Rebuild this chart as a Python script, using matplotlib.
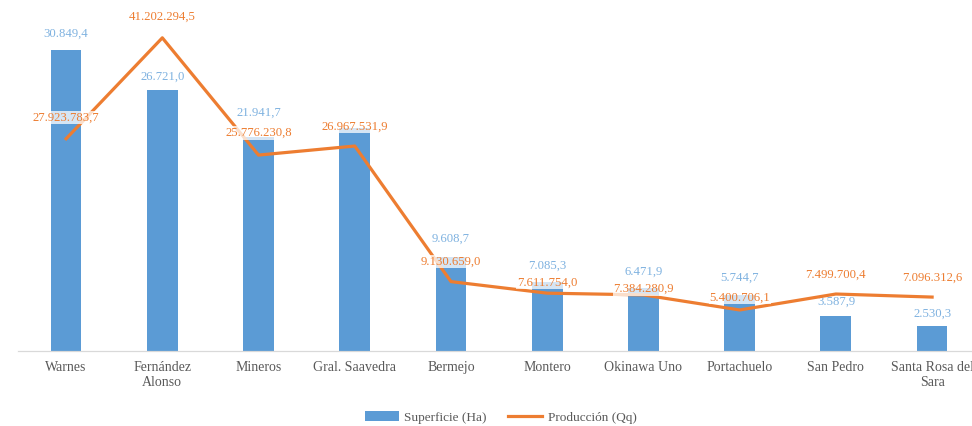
import numpy as np
import matplotlib
matplotlib.use("Agg")
import matplotlib.pyplot as plt

plt.rcParams['font.family'] = ['Liberation Serif', 'DejaVu Serif']

municipios = ["Warnes", "Fernández\nAlonso", "Mineros", "Gral. Saavedra", "Bermejo",
              "Montero", "Okinawa Uno", "Portachuelo", "San Pedro", "Santa Rosa del\nSara"]
superficie = [30849.4, 26721.0, 21941.7, 22800.0, 9608.7, 7085.3, 6471.9, 5744.7, 3587.9, 2530.3]
produccion = [27923783.7, 41202294.5, 25776230.8, 26967531.9, 9130659.0,
              7611754.0, 7384280.9, 5400706.1, 7499700.4, 7096312.6]
# the Gral. Saavedra bar label is hidden in the source
show_sup_label = [True, True, True, False, True, True, True, True, True, True]

# label offsets (points) as placed in the source chart
sup_off = [7, 5, 13, 7, 9, 7, 7, 8, 6, 5]
prod_off = [11, 11, 11.5, 9.5, 10, 3.5, 0, 4.5, 9.5, 9.5]


def fmt_es(v):
    s = f"{v:,.1f}"
    return s.replace(",", "X").replace(".", ",").replace("X", ".")


blue = '#5B9BD5'
orange = '#ED7D31'

fig = plt.figure(figsize=(9.72, 4.26), dpi=100)
ax = fig.add_axes([0.0185, 0.176, 0.985, 0.803])
ax2 = ax.twinx()

x = np.arange(len(municipios))
ax.bar(x, superficie, width=0.32, color=blue, label="Superficie (Ha)", zorder=2)
ax2.plot(x, produccion, color=orange, lw=2.3, label="Producción (Qq)", zorder=3)

ax.set_ylim(0, 35000)
ax2.set_ylim(0, 45000000)
ax.set_xlim(-0.5, 9.45)

for i, v in enumerate(superficie):
    if show_sup_label[i]:
        ax.annotate(fmt_es(v), (x[i], v), xytext=(0, sup_off[i]), textcoords='offset points',
                    ha='center', va='bottom', fontsize=9.2, color='#7FB2E0',
                    bbox=dict(boxstyle='square,pad=0.05', fc='white', ec='none', alpha=0.6),
                    zorder=4)
for i, v in enumerate(produccion):
    ax2.annotate(fmt_es(v), (x[i], v), xytext=(0, prod_off[i]), textcoords='offset points',
                 ha='center', va='bottom', fontsize=9.2, color=orange,
                 bbox=dict(boxstyle='square,pad=0.05', fc='white', ec='none', alpha=0.75),
                 zorder=5)

ax.set_xticks(x)
ax.set_xticklabels(municipios, fontsize=10, color='#595959', linespacing=1.25)
ax.tick_params(axis='x', length=0, pad=7)
ax.set_yticks([])
ax2.set_yticks([])
for a in (ax, ax2):
    for s in ['top', 'right', 'left']:
        a.spines[s].set_visible(False)
    a.spines['bottom'].set_color('#D9D9D9')
ax2.patch.set_visible(False)

h1, l1 = ax.get_legend_handles_labels()
h2, l2 = ax2.get_legend_handles_labels()
fig.legend(h1 + h2, l1 + l2, loc='center', bbox_to_anchor=(0.515, 0.02), ncol=2,
           frameon=False, fontsize=9.5, labelcolor='#595959', handlelength=2.6,
           handletextpad=0.4, columnspacing=1.6)

fig.savefig("out.png", dpi=100)
